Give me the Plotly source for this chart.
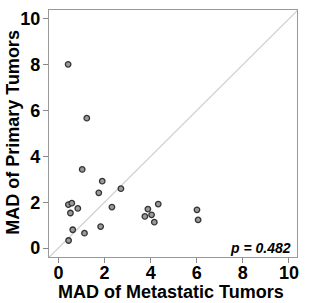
import plotly.graph_objects as go

met_mad = [0.42, 1.23, 1.03, 1.90, 2.71, 1.75, 0.43, 0.58, 0.52, 0.84, 2.32,
           0.62, 1.13, 1.83, 0.44, 3.75, 3.88, 4.04, 4.33, 4.16, 6.01, 6.06]
pri_mad = [8.02, 5.67, 3.43, 2.92, 2.59, 2.41, 1.90, 1.96, 1.53, 1.73, 1.79,
           0.80, 0.65, 0.94, 0.33, 1.38, 1.70, 1.45, 1.92, 1.13, 1.67, 1.23]
tick_vals = [0, 2, 4, 6, 8, 10]
diag = [-0.4, 10.4]
p_label = "p = 0.482"
x_title = "MAD of Metastatic Tumors"
y_title = "MAD of Primary Tumors"

fig = go.Figure()
fig.add_trace(go.Scatter(x=diag, y=diag, mode="lines",
                         line=dict(color="#d0d0d0", width=1.2), hoverinfo="skip"))
fig.add_trace(go.Scatter(x=met_mad, y=pri_mad, mode="markers",
                         marker=dict(size=5.5, color="#9a9a9a",
                                     line=dict(color="#333333", width=1.3))))

fam = "Liberation Sans, Arial, sans-serif"
axis_common = dict(tickvals=tick_vals, ticktext=["<b>%d</b>" % v for v in tick_vals],
                   ticks="outside", ticklen=5, tickcolor="#888",
                   tickwidth=1, showgrid=False, zeroline=False, showline=True,
                   linecolor="#999", linewidth=1.2, mirror=True, automargin=False,
                   tickfont=dict(family=fam, size=18, color="black", weight="bold"))
fig.update_layout(
    width=333, height=303,
    margin=dict(l=49, r=36, t=10, b=46, autoexpand=False),
    paper_bgcolor="white", plot_bgcolor="white",
    showlegend=False,
    xaxis=dict(range=[-0.41, 10.35], ticklabelstandoff=-6, **axis_common),
    yaxis=dict(range=[-0.39, 10.39], ticklabelstandoff=-1, **axis_common),
    annotations=[
        dict(text="<b><i>" + p_label + "</i></b>", xref="paper", yref="paper",
             x=0.984, y=0.036, xanchor="right", yanchor="middle", showarrow=False,
             font=dict(family=fam, size=14, color="black")),
        dict(text="<b>" + x_title + "</b>", xref="paper", yref="paper",
             x=0.49, y=-0.143, xanchor="center", yanchor="middle", showarrow=False,
             font=dict(family=fam, size=18, color="black")),
        dict(text="<b>" + y_title + "</b>", xref="paper", yref="paper",
             x=-0.148, y=0.504, xanchor="center", yanchor="middle", showarrow=False,
             textangle=-90, font=dict(family=fam, size=18, color="black")),
    ],
)
fig.write_html("out.html", config={"displayModeBar": False},
               post_script="document.body.style.margin='0';")
